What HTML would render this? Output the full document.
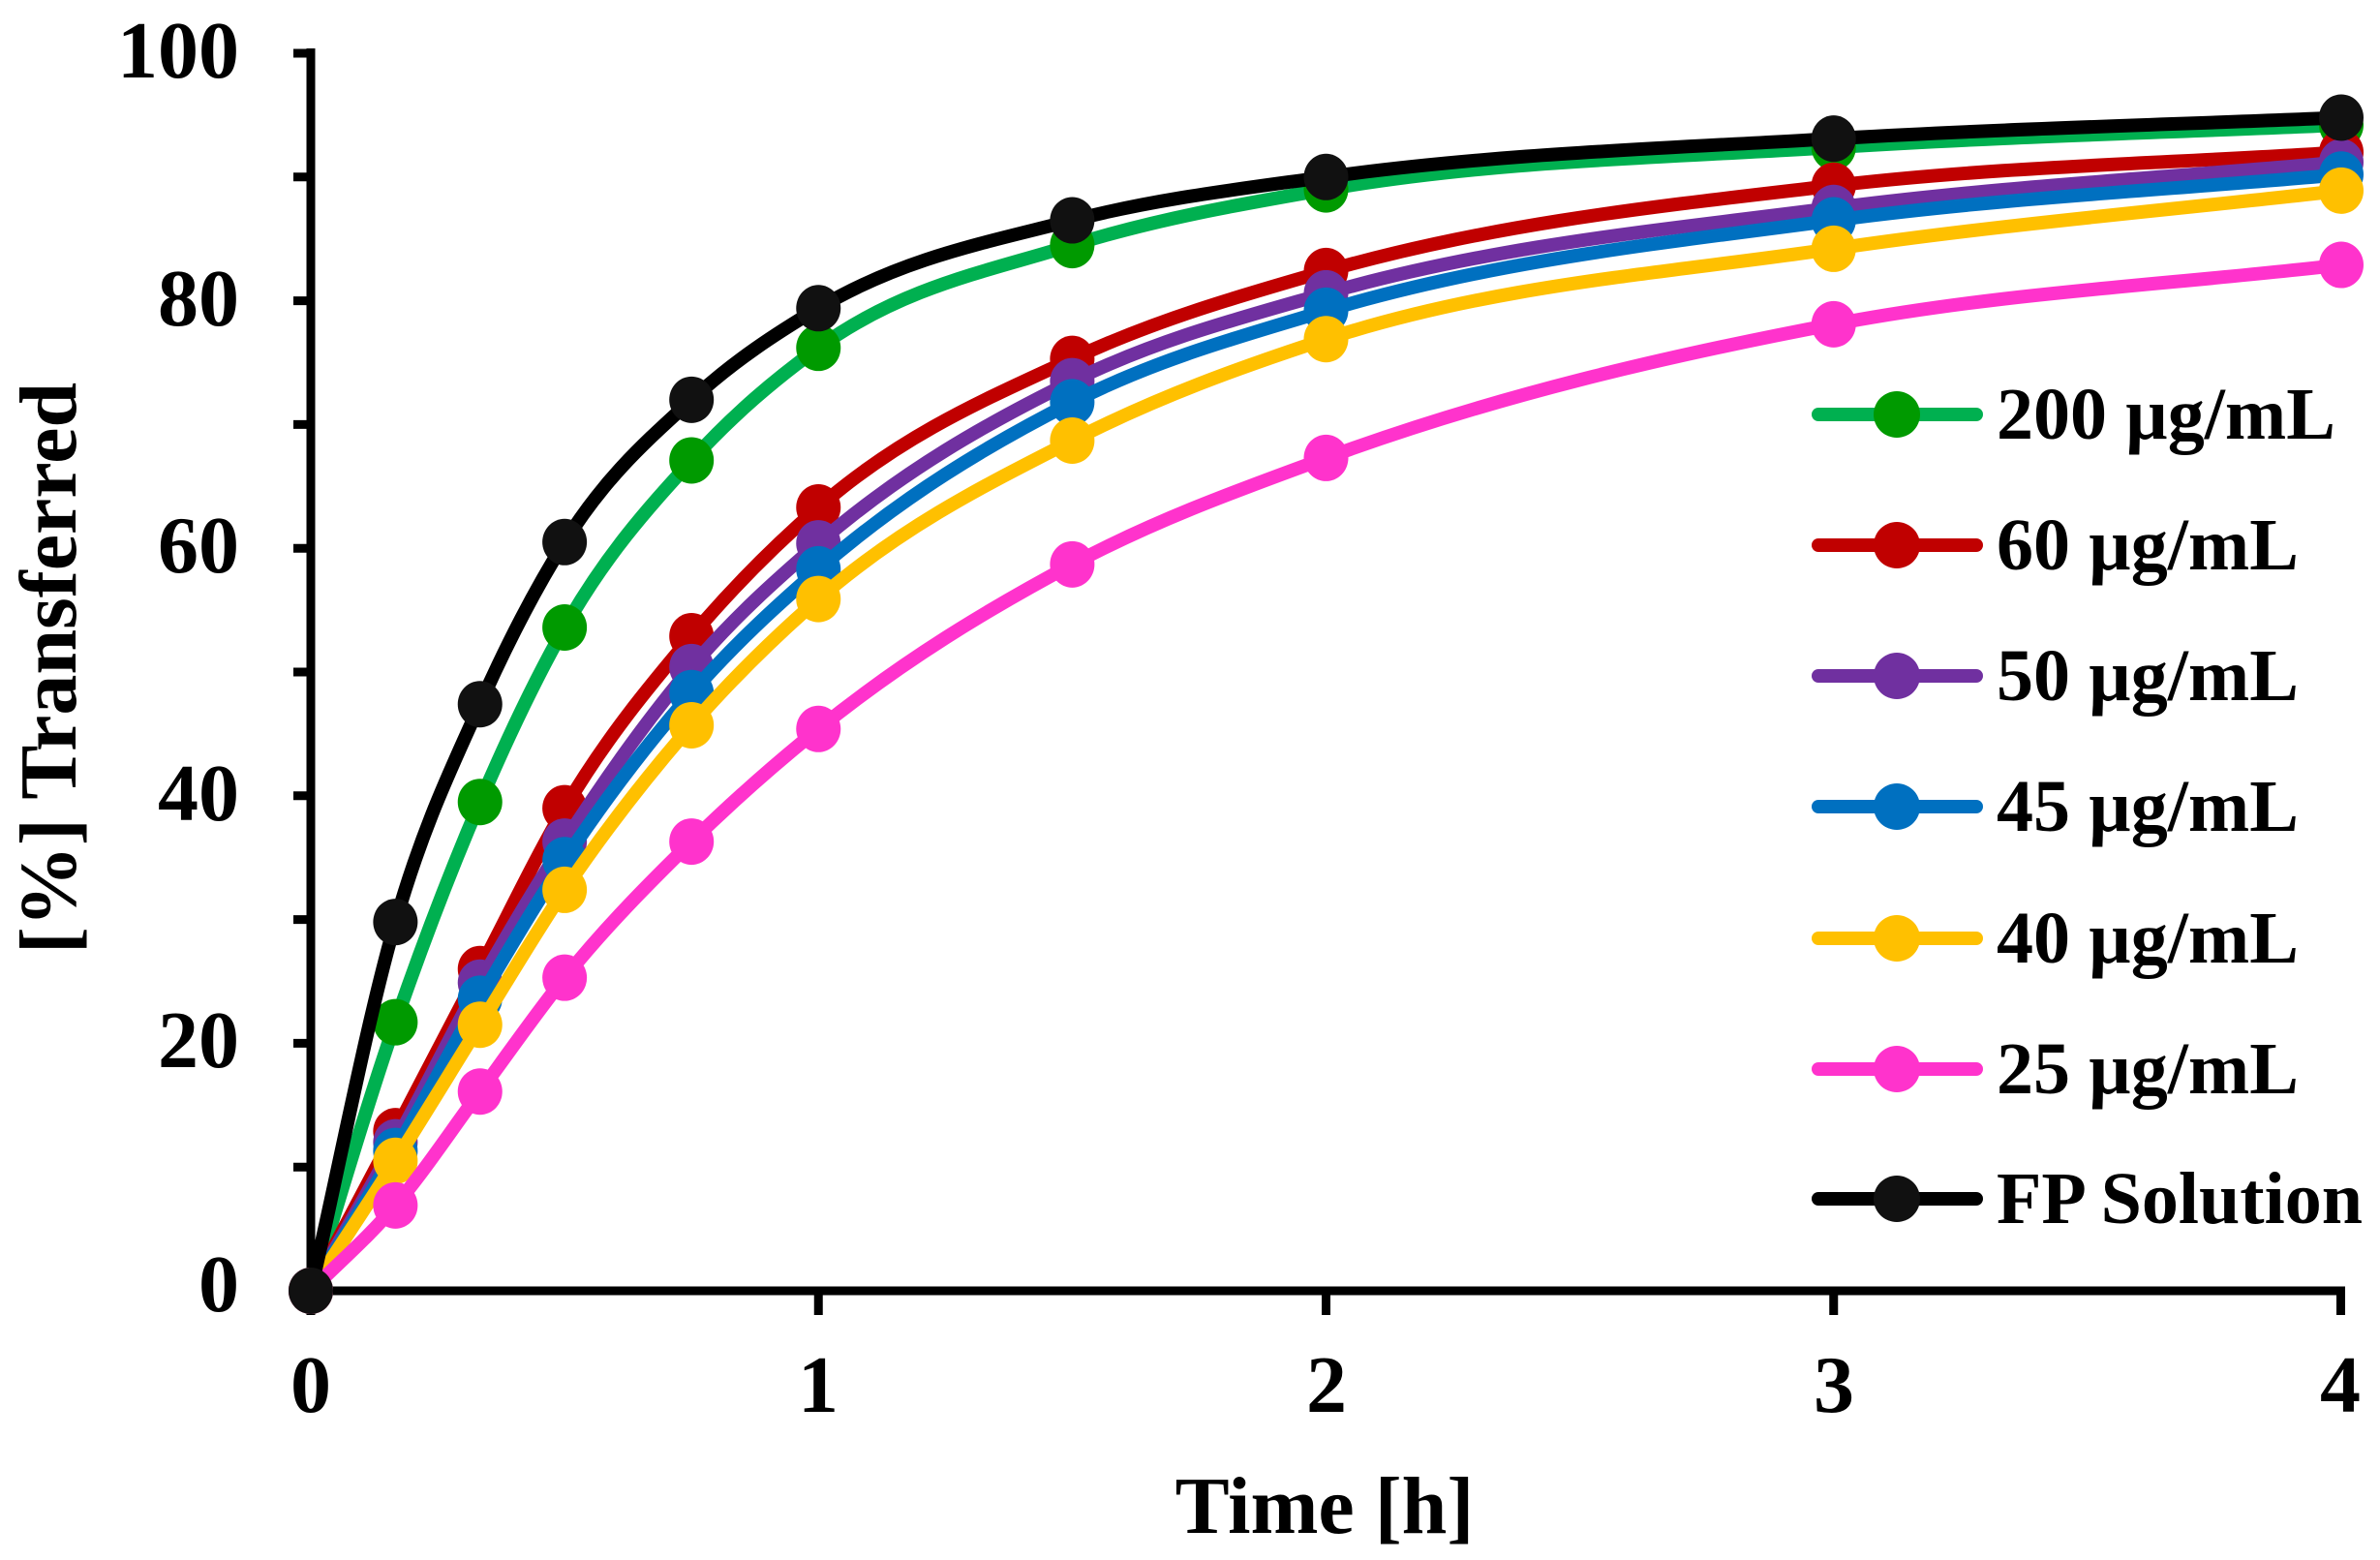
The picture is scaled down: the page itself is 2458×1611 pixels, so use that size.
<!DOCTYPE html>
<html>
<head>
<meta charset="utf-8">
<style>
html,body{margin:0;padding:0;background:#fff;}
svg{display:block;}
text{font-family:"Liberation Serif","Times New Roman",serif;font-weight:bold;fill:#000;}
</style>
</head>
<body>
<svg id="chart" width="2458" height="1611" viewBox="0 0 2458 1611" xmlns="http://www.w3.org/2000/svg">
<rect width="2458" height="1611" fill="#fff"/>
<!-- axes -->
<g stroke="#000" stroke-width="9" fill="none">
  <line x1="321" y1="50" x2="321" y2="1337"/>
  <line x1="317" y1="1333" x2="2422" y2="1333"/>
  <!-- y ticks -->
  <line x1="303" y1="55" x2="321" y2="55"/>
  <line x1="303" y1="182.8" x2="321" y2="182.8"/>
  <line x1="303" y1="310.6" x2="321" y2="310.6"/>
  <line x1="303" y1="438.4" x2="321" y2="438.4"/>
  <line x1="303" y1="566.2" x2="321" y2="566.2"/>
  <line x1="303" y1="694" x2="321" y2="694"/>
  <line x1="303" y1="821.8" x2="321" y2="821.8"/>
  <line x1="303" y1="949.6" x2="321" y2="949.6"/>
  <line x1="303" y1="1077.4" x2="321" y2="1077.4"/>
  <line x1="303" y1="1205.2" x2="321" y2="1205.2"/>
  <!-- x ticks -->
  <line x1="321" y1="1333" x2="321" y2="1358"/>
  <line x1="845.25" y1="1333" x2="845.25" y2="1358"/>
  <line x1="1369.5" y1="1333" x2="1369.5" y2="1358"/>
  <line x1="1893.75" y1="1333" x2="1893.75" y2="1358"/>
  <line x1="2417.5" y1="1333" x2="2417.5" y2="1358"/>
</g>
<!-- y tick labels -->
<g font-size="84" text-anchor="end">
  <text x="247" y="80">100</text>
  <text x="247" y="336">80</text>
  <text x="247" y="591">60</text>
  <text x="247" y="847">40</text>
  <text x="247" y="1102">20</text>
  <text x="247" y="1354">0</text>
</g>
<!-- x tick labels -->
<g font-size="84" text-anchor="middle">
  <text x="321" y="1458">0</text>
  <text x="845" y="1458">1</text>
  <text x="1370" y="1458">2</text>
  <text x="1894" y="1458">3</text>
  <text x="2417" y="1458">4</text>
</g>
<!-- axis titles -->
<text x="1368" y="1583" font-size="84" text-anchor="middle">Time [h]</text>
<text transform="translate(78,690) rotate(-90)" font-size="84" text-anchor="middle">[%] Transferred</text>

<g id="series"></g>

<!-- legend -->
<g stroke-width="14" stroke-linecap="round">
  <line x1="1878" y1="428" x2="2041" y2="428" stroke="#00B050"/>
  <line x1="1878" y1="563" x2="2041" y2="563" stroke="#C00000"/>
  <line x1="1878" y1="698" x2="2041" y2="698" stroke="#7030A0"/>
  <line x1="1878" y1="833" x2="2041" y2="833" stroke="#0070C0"/>
  <line x1="1878" y1="969" x2="2041" y2="969" stroke="#FFC000"/>
  <line x1="1878" y1="1104" x2="2041" y2="1104" stroke="#FF33CC"/>
  <line x1="1878" y1="1238" x2="2041" y2="1238" stroke="#000000"/>
</g>
<g>
  <ellipse cx="1959" cy="428" rx="24" ry="24" fill="#009A00"/>
  <ellipse cx="1959" cy="563" rx="24" ry="24" fill="#C00000"/>
  <ellipse cx="1959" cy="698" rx="24" ry="24" fill="#7030A0"/>
  <ellipse cx="1959" cy="833" rx="24" ry="24" fill="#0070C0"/>
  <ellipse cx="1959" cy="969" rx="24" ry="24" fill="#FFC000"/>
  <ellipse cx="1959" cy="1104" rx="24" ry="24" fill="#FF33CC"/>
  <ellipse cx="1959" cy="1238" rx="24" ry="24" fill="#111111"/>
</g>
<g font-size="76">
  <text x="2062" y="453">200 µg/mL</text>
  <text x="2062" y="588">60 µg/mL</text>
  <text x="2062" y="723">50 µg/mL</text>
  <text x="2062" y="858">45 µg/mL</text>
  <text x="2062" y="994">40 µg/mL</text>
  <text x="2062" y="1129">25 µg/mL</text>
  <text x="2062" y="1263">FP Solution</text>
</g>
</svg>
<script>
(function(){
  var NS="http://www.w3.org/2000/svg";
  var T=[0,1/6,1/3,0.5,0.75,1,1.5,2,3,4];
  function X(t){return 321+t*524.25;}
  function Y(v){return 1333-v*12.78;}
  var S=[
    {l:"#00B050",m:"#009A00",v:[0,21.7,39.5,53.6,67.1,76.2,84.5,89.0,92.4,94.2]},
    {l:"#C00000",m:"#C00000",v:[0,12.9,26.0,39.0,52.9,63.3,75.3,82.4,89.3,92.0]},
    {l:"#7030A0",m:"#7030A0",v:[0,12.0,24.9,36.3,50.4,60.4,73.5,80.6,87.5,91.2]},
    {l:"#0070C0",m:"#0070C0",v:[0,11.3,23.6,34.8,48.3,58.3,71.8,79.2,86.5,90.2]},
    {l:"#FFC000",m:"#FFC000",v:[0,10.5,21.5,32.4,45.7,55.9,68.7,76.9,84.2,88.9]},
    {l:"#FF33CC",m:"#FF33CC",v:[0,6.9,16.1,25.3,36.3,45.4,58.7,67.3,78.1,82.9]},
    {l:"#000000",m:"#111111",v:[0,29.8,47.4,60.5,72.0,79.4,86.5,90.0,93.1,94.8]}
  ];
  var g=document.getElementById("series");
  S.forEach(function(s){
    var p=T.map(function(t,i){return [X(t),Y(s.v[i])];});
    var n=p.length;
    // slopes (dy/dx) using non-uniform three-point derivative
    var m=[];
    for(var i=0;i<n;i++){
      if(i===0){m.push((p[1][1]-p[0][1])/(p[1][0]-p[0][0]));}
      else if(i===n-1){m.push((p[n-1][1]-p[n-2][1])/(p[n-1][0]-p[n-2][0]));}
      else{
        var h0=p[i][0]-p[i-1][0],h1=p[i+1][0]-p[i][0];
        var d0=(p[i][1]-p[i-1][1])/h0,d1=(p[i+1][1]-p[i][1])/h1;
        m.push((h1*d0+h0*d1)/(h0+h1));
      }
    }
    var d="M"+p[0][0].toFixed(2)+","+p[0][1].toFixed(2);
    for(var i=0;i<n-1;i++){
      var h=p[i+1][0]-p[i][0];
      var c1=[p[i][0]+h/3,p[i][1]+m[i]*h/3];
      var c2=[p[i+1][0]-h/3,p[i+1][1]-m[i+1]*h/3];
      d+=" C"+c1[0].toFixed(2)+","+c1[1].toFixed(2)+" "+c2[0].toFixed(2)+","+c2[1].toFixed(2)+" "+p[i+1][0].toFixed(2)+","+p[i+1][1].toFixed(2);
    }
    var path=document.createElementNS(NS,"path");
    path.setAttribute("d",d);
    path.setAttribute("fill","none");
    path.setAttribute("stroke",s.l);
    path.setAttribute("stroke-width","14");
    path.setAttribute("stroke-linejoin","round");
    path.setAttribute("stroke-linecap","round");
    g.appendChild(path);
    p.forEach(function(q){
      var c=document.createElementNS(NS,"ellipse");
      c.setAttribute("cx",q[0]);c.setAttribute("cy",q[1]);
      c.setAttribute("rx","23");c.setAttribute("ry","24");
      c.setAttribute("fill",s.m);
      g.appendChild(c);
    });
  });
})();
</script>
</body>
</html>
